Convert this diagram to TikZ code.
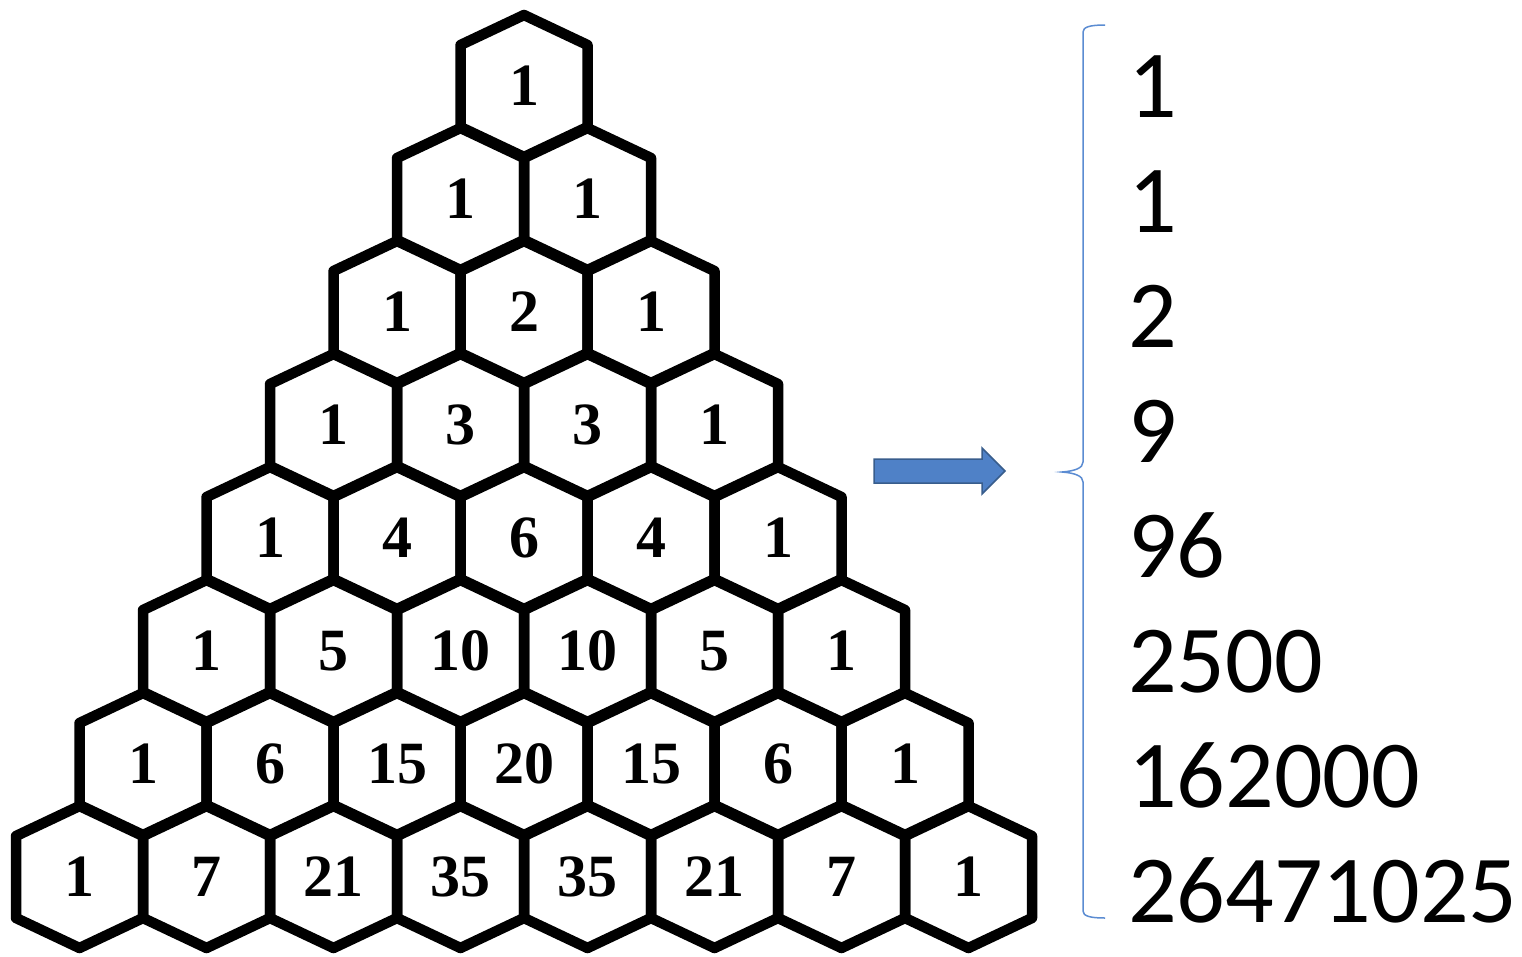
\documentclass[tikz,border=0pt]{standalone}
\usepackage{fontspec}
\setmainfont{Liberation Serif}
\newfontfamily\calibfont{Carlito}
\definecolor{arrowblue}{RGB}{79,129,199}
\definecolor{arrowdark}{RGB}{56,93,140}
\definecolor{bracecol}{RGB}{91,140,210}
\begin{document}
\begin{tikzpicture}[x=1pt,y=-1pt,
  hexcell/.style={draw=black, line width=10.5pt, line join=round},
  hexnum/.style={font=\bfseries\fontsize{60}{60}\selectfont, inner sep=0pt},
  rnum/.style={font=\calibfont\fontsize{96}{96}\selectfont, inner sep=0pt, anchor=base west},
  bigarrow/.style={fill=arrowblue, draw=arrowdark, line width=1.5pt, line join=miter},
  bracestyle/.style={draw=bracecol, line width=1.5pt}]
\useasboundingbox[fill=white] (0,0) rectangle (1522,956);
\foreach \r/\vals in {0/{1},1/{1,1},2/{1,2,1},3/{1,3,3,1},4/{1,4,6,4,1},5/{1,5,10,10,5,1},6/{1,6,15,20,15,6,1},7/{1,7,21,35,35,21,7,1}}{
  \foreach \v [count=\k from 0] in \vals {
    \pgfmathsetmacro\cx{524+(\k-\r/2)*127}
    \pgfmathsetmacro\cy{86+113*\r}
    \draw[hexcell] ({\cx},{\cy-71}) -- ({\cx+63.5},{\cy-41}) -- ({\cx+63.5},{\cy+41}) -- ({\cx},{\cy+71}) -- ({\cx-63.5},{\cy+41}) -- ({\cx-63.5},{\cy-41}) -- cycle;
    \node[hexnum] (h\r-\k) at (\cx,\cy) {\v};
  }
}
\path[bigarrow] (874,459) -- (982,459) -- (982,448) -- (1005,471) -- (982,494) -- (982,483) -- (874,483) -- cycle;
\coordinate (btop) at (1105,25);
\coordinate (btip) at (1062,472);
\coordinate (bbot) at (1105,918);
\draw[bracestyle] (btop) .. controls (1090,25) and (1083,27) .. (1083,32) -- (1083,462) .. controls (1083,468) and (1075,471) .. (btip) .. controls (1075,473) and (1083,476) .. (1083,482) -- (1083,911) .. controls (1083,916) and (1090,918) .. (bbot);
\foreach \v [count=\i from 0] in {1,1,2,9,96,2500,162000,26471025}{
  \node[rnum] (n\i) at (1128,{117+115*\i}) {\v};
}
\end{tikzpicture}
\end{document}
